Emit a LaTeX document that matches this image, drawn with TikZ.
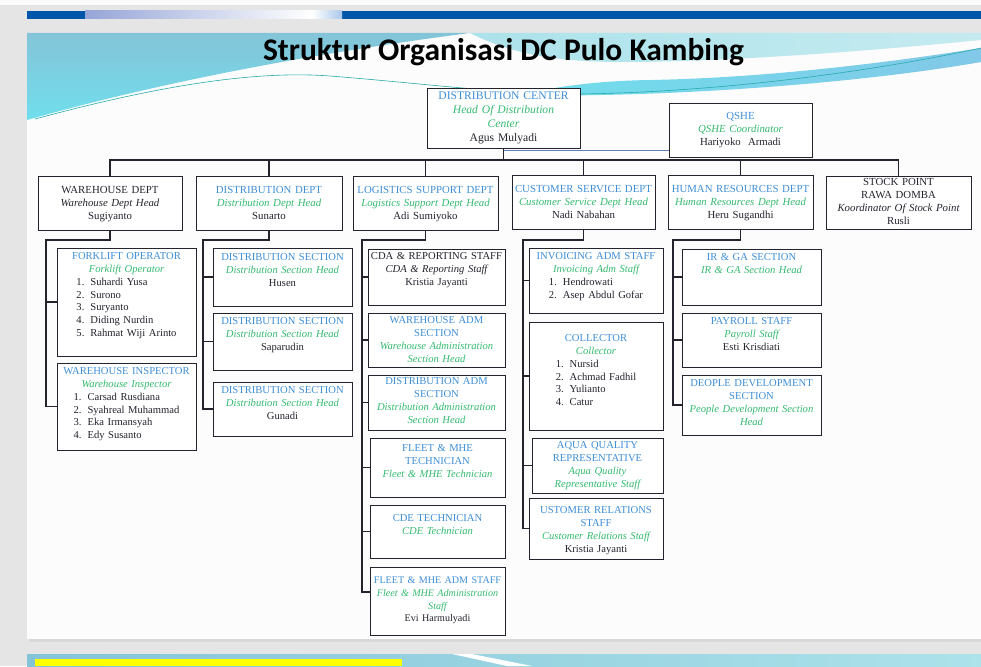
\documentclass[tikz,border=0pt]{standalone}
\usepackage{fontspec}
\setmainfont{Liberation Serif}
\newfontfamily\titlefont{Carlito}
\usetikzlibrary{fit,calc}
\definecolor{tblue}{RGB}{62,142,214}
\definecolor{tgreen}{RGB}{52,186,112}
\definecolor{tdark}{RGB}{35,35,45}
\definecolor{pagebg}{RGB}{229,229,229}
\definecolor{bandblue}{RGB}{0,86,168}
\definecolor{bandlight}{RGB}{150,165,215}
\definecolor{bandlight2}{RGB}{170,200,235}
\definecolor{cyanA}{RGB}{132,196,216}
\definecolor{cyanB}{RGB}{112,222,236}
\definecolor{cyanC}{RGB}{172,226,234}
\definecolor{cyanD}{RGB}{130,200,232}
\definecolor{qline}{RGB}{95,130,180}
\definecolor{tealline}{RGB}{40,170,170}
\definecolor{yel}{RGB}{255,255,0}
\tikzset{
  obox/.style={draw=tdark, line width=0.9pt, fill=white, inner sep=0pt},
  otext/.style={inner sep=0pt, align=center, anchor=north, text=tdark,
    font=\fontsize{10.6}{12.8}\selectfont},
  dtext/.style={font=\fontsize{10.8}{13}\selectfont},
  ctext/.style={font=\fontsize{11.6}{14}\selectfont},
  ntext/.style={font=\fontsize{10.1}{12.8}\selectfont},
  conn/.style={draw=tdark, line width=1.3pt},
  qconn/.style={draw=qline, line width=1.3pt},
}
\newcommand\hb[1]{\textcolor{tblue}{#1}}
\newcommand\hg[1]{\textcolor{tgreen}{\itshape #1}}
\newcommand\hi[1]{{\itshape #1}}
% #1 name, #2 x1, #3 y1, #4 x2, #5 y2, #6 offset, #7 options, #8 text
\newcommand\ob[8]{%
  \node[obox, fit={(#2,#3)(#4,#5)}] (#1) {};
  \pgfmathsetmacro\obw{#4-#2-2}%
  \node[otext, text width=\obw pt, #7] (#1t) at ([yshift=-#6pt]#1.north) {#8};
}
\newcommand\lst[1]{\begin{tabular}[t]{@{}l@{\hspace{6pt}}l@{}}#1\end{tabular}}
\begin{document}
\begin{tikzpicture}[x=1pt,y=-1pt]
\useasboundingbox (0,0) rectangle (981,666);
% page background
\fill[pagebg] (0,0) rectangle (981,666);
\fill[white!97!gray] (0,0) rectangle (981,5);
% previous slide band
\fill[bandblue] (27,11) rectangle (981,19);
\shade[left color=bandlight, right color=white] (85,11) rectangle (312,19);
\shade[left color=white, right color=bandlight2] (312,11) rectangle (342,19);
% main slide
\fill[black!15] (29,35) rectangle (981,642);
\fill[white!98!gray] (27,33) rectangle (981,639);
% header decoration
\shade[top color=cyanA, bottom color=cyanB] (27,33) -- (27,120) .. controls (150,85) and (300,55) .. (470,33) -- cycle;
\shade[left color=cyanC, right color=cyanC!70!white] (470,33) -- (981,33) -- (981,40) .. controls (860,52) and (720,62) .. (620,62) .. controls (540,62) and (500,48) .. (470,33) -- cycle;
\shade[left color=cyanB, right color=cyanD] (520,95) .. controls (650,98) and (850,85) .. (981,62) -- (981,48) .. controls (880,64) and (760,78) .. (650,80) .. controls (590,81) and (550,88) .. (520,95) -- cycle;
\draw[tealline, line width=0.6pt] (35,119) .. controls (150,88) and (250,70) .. (330,76) .. controls (430,84) and (500,94) .. (580,94) .. controls (720,92) and (870,72) .. (981,48);
% next slide
\fill[black!15] (29,656) rectangle (981,666);
\shade[left color=cyanA, right color=cyanC] (27,654) rectangle (981,666);
\fill[white] (452,654) -- (472,654) -- (532,666) -- (507,666) -- cycle;
\fill[yel] (35,659) rectangle (402,666);
% title
\node[font=\titlefont\bfseries\fontsize{31.5}{34}\selectfont, anchor=base, inner sep=0pt] (title) at (503.5,61) {Struktur Organisasi DC Pulo Kambing};

% top level
\ob{dc}{427}{88}{580}{148}{4}{ctext}{\hb{DISTRIBUTION CENTER}\\\hg{Head Of Distribution\\Center}\\Agus Mulyadi}
\ob{qs}{669}{103}{812}{157}{10}{dtext}{\hb{QSHE}\\\hg{QSHE Coordinator}\\Hariyoko\ \ Armadi}

% departments
\ob{whd}{38}{176}{182}{230}{11}{dtext}{WAREHOUSE DEPT\\\hi{Warehouse Dept Head}\\Sugiyanto}
\ob{dd}{196}{176}{342}{230}{11}{dtext}{\hb{DISTRIBUTION DEPT}\\\hg{Distribution Dept Head}\\Sunarto}
\ob{ls}{353}{176}{498}{230}{11}{dtext}{\hb{LOGISTICS SUPPORT DEPT}\\\hg{Logistics Support Dept Head}\\Adi Sumiyoko}
\ob{cs}{512}{175}{655}{229}{11}{dtext}{\hb{CUSTOMER SERVICE DEPT}\\\hg{Customer Service Dept Head}\\Nadi Nabahan}
\ob{hr}{668}{175}{813}{229}{11}{dtext}{\hb{HUMAN RESOURCES DEPT}\\\hg{Human Resources Dept Head}\\Heru Sugandhi}
\ob{spd}{826}{176}{971}{229}{3}{dtext}{STOCK POINT\\RAWA DOMBA\\\hi{Koordinator Of Stock Point}\\Rusli}

% warehouse column
\ob{fork}{57}{248}{196}{356}{5}{}{\hb{FORKLIFT OPERATOR}\\\hg{Forklift Operator}\\\lst{1. & Suhardi Yusa\\2. & Surono\\3. & Suryanto\\4. & Diding Nurdin\\5. & Rahmat Wiji Arinto}}
\ob{insp}{57}{363}{196}{450}{5}{}{\hb{WAREHOUSE INSPECTOR}\\\hg{Warehouse Inspector}\\\lst{1. & Carsad Rusdiana\\2. & Syahreal Muhammad\\3. & Eka Irmansyah\\4. & Edy Susanto}}

% distribution column
\ob{dsa}{213}{248}{352}{306}{6}{}{\hb{DISTRIBUTION SECTION}\\\hg{Distribution Section Head}\\Husen}
\ob{dsb}{213}{313}{352}{370}{5}{}{\hb{DISTRIBUTION SECTION}\\\hg{Distribution Section Head}\\Saparudin}
\ob{dsc}{213}{382}{352}{436}{5}{}{\hb{DISTRIBUTION SECTION}\\\hg{Distribution Section Head}\\Gunadi}

% logistics column
\ob{cda}{368}{249}{505}{305}{4}{}{CDA \& REPORTING STAFF\\\hi{CDA \& Reporting Staff}\\Kristia Jayanti}
\ob{wha}{368}{313}{505}{367}{4}{}{\hb{WAREHOUSE ADM\\SECTION}\\\hg{Warehouse Administration\\Section Head}}
\ob{dia}{368}{375}{505}{430}{3}{}{\hb{DISTRIBUTION ADM\\SECTION}\\\hg{Distribution Administration\\Section Head}}
\ob{flt}{370}{438}{505}{497}{7}{}{\hb{FLEET \& MHE\\TECHNICIAN}\\\hg{Fleet \& MHE Technician}}
\ob{cde}{370}{505}{505}{558}{10}{}{\hb{CDE TECHNICIAN}\\\hg{CDE Technician}}
\ob{fla}{370}{567}{505}{635}{10}{ntext}{\hb{FLEET \& MHE ADM STAFF}\\\hg{Fleet \& MHE Administration\\Staff}\\Evi Harmulyadi}

% customer service column
\ob{inv}{529}{248}{663}{313}{5}{}{\hb{INVOICING ADM STAFF}\\\hg{Invoicing Adm Staff}\\\lst{1. & Hendrowati\\2. & Asep Abdul Gofar}}
\ob{col}{529}{322}{663}{430}{13}{}{\hb{COLLECTOR}\\\hg{Collector}\\\lst{1. & Nursid\\2. & Achmad Fadhil\\3. & Yulianto\\4. & Catur}}
\ob{aqua}{532}{438}{663}{493}{4}{}{\hb{AQUA QUALITY\\REPRESENTATIVE}\\\hg{Aqua Quality\\Representative Staff}}
\ob{ucr}{529}{498}{663}{559}{9}{}{\hb{USTOMER RELATIONS\\STAFF}\\\hg{Customer Relations Staff}\\Kristia Jayanti}

% human resources column
\ob{irga}{682}{249}{821}{305}{5}{}{\hb{IR \& GA SECTION}\\\hg{IR \& GA Section Head}}
\ob{pay}{682}{313}{821}{367}{5}{}{\hb{PAYROLL STAFF}\\\hg{Payroll Staff}\\Esti Krisdiati}
\ob{ppl}{682}{375}{821}{435}{5}{}{\hb{DEOPLE DEVELOPMENT\\SECTION}\\\hg{People Development Section\\Head}}

% connectors: top level
\coordinate (bus) at (0,160);
\draw[conn] (dc.south) -- (dc.south |- bus);
\draw[qconn] ([yshift=-2pt]dc.south) -- ([yshift=-2pt]dc.south -| qs.west);
\draw[conn] (whd.north) -- (whd.north |- bus) -- (spd.north |- bus) -- (spd.north);
\foreach \n in {dd,ls,cs,hr} \draw[conn] (\n.north) -- (\n.north |- bus);

% warehouse
\coordinate (ca) at (46,240);
\draw[conn] (whd.south) |- (ca) -- (ca |- insp.west) -- (insp.west);
\draw[conn] (ca |- fork.west) -- (fork.west);
% distribution
\coordinate (cb) at (203,240);
\draw[conn] (dd.south) |- (cb) -- (cb |- dsc.west) -- (dsc.west);
\foreach \n in {dsa,dsb} \draw[conn] (cb |- \n.west) -- (\n.west);
% logistics
\coordinate (cc) at (362,240);
\coordinate (flaw) at ([yshift=9pt]fla.west);
\draw[conn] (ls.south) |- (cc) -- (cc |- flaw) -- (flaw);
\foreach \n in {cda,wha,dia,flt,cde} \draw[conn] (cc |- \n.west) -- (\n.west);
% customer service
\coordinate (cd) at (523,240);
\draw[conn] (cs.south) |- (cd) -- (cd |- ucr.west) -- (ucr.west);
\foreach \n in {inv,col,aqua} \draw[conn] (cd |- \n.west) -- (\n.west);
% human resources
\coordinate (ce) at (673,240);
\draw[conn] (hr.south) |- (ce) -- (ce |- ppl.west) -- (ppl.west);
\foreach \n in {irga,pay} \draw[conn] (ce |- \n.west) -- (\n.west);
\end{tikzpicture}
\end{document}
